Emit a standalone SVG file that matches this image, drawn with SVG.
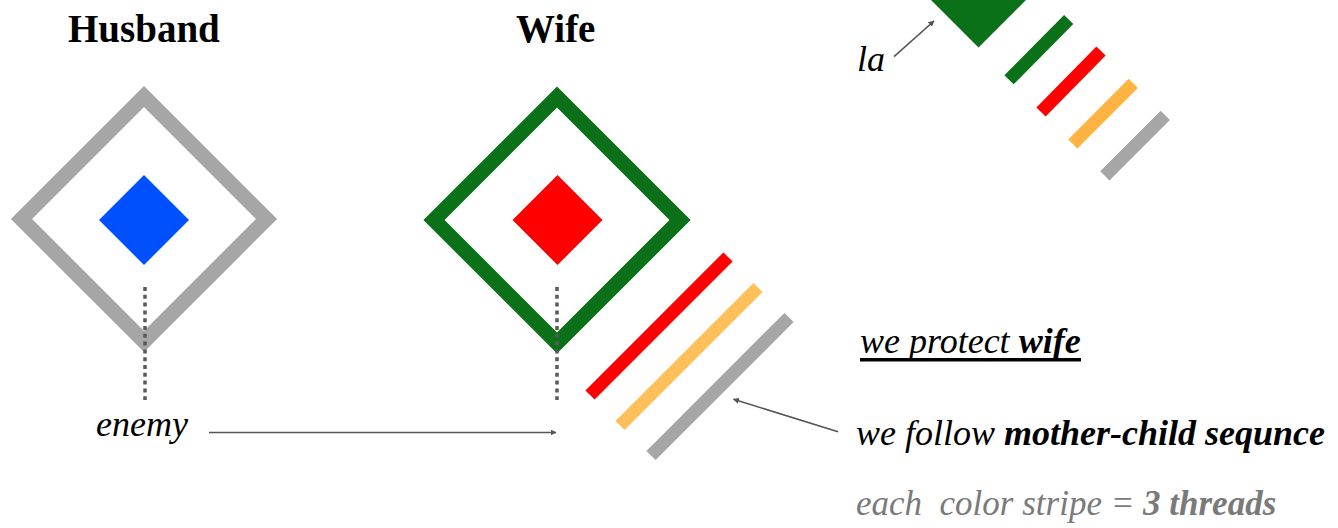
<svg xmlns="http://www.w3.org/2000/svg" width="1338" height="528" viewBox="0 0 1338 528">
  <style>
    .title { font-family: "Liberation Serif", "DejaVu Serif", serif; font-weight: bold; font-size: 39px; fill: #000; }
    .it { font-family: "Liberation Serif", "DejaVu Serif", serif; font-style: italic; fill: #000; }
    .b { font-weight: bold; }
    .frame { fill: none; stroke-width: 15; stroke-linejoin: miter; }
    .dots { stroke: #595959; stroke-width: 3.5; stroke-dasharray: 4 3.8; fill: none; }
    .stripe { stroke-width: 13; stroke-linecap: butt; fill: none; }
    .conn { stroke: #555555; stroke-width: 1.6; fill: none; marker-end: url(#arr); }
  </style>
  <defs>
    <marker id="arr" viewBox="0 0 10 10" refX="9" refY="5" markerWidth="6" markerHeight="6" markerUnits="userSpaceOnUse" orient="auto">
      <path d="M0,0 L10,5 L0,10 z" fill="#555555"/>
    </marker>
  </defs>
  <rect width="1338" height="528" fill="#ffffff"/>

  <g id="husband">
    <text class="title" x="68" y="42">Husband</text>
    <polygon class="frame" stroke="#A6A6A6" points="144,96.5 266.5,219 144,341.5 21.5,219"/>
    <polygon fill="#0050FF" points="144,175 189,220 144,265 99,220"/>
    <line class="dots" x1="145" y1="287" x2="145" y2="400"/>
  </g>

  <g id="wife">
    <text class="title" x="516" y="42">Wife</text>
    <polygon class="frame" stroke="#0A7119" points="557,97 680,220 557,343 434,220"/>
    <polygon fill="#FF0000" points="557.5,175 602.5,220 557.5,265 512.5,220"/>
    <line class="dots" x1="557" y1="287" x2="557" y2="400"/>
  </g>

  <g id="wife-stripes">
    <line class="stripe" stroke="#FF0000" x1="590" y1="395" x2="728" y2="257"/>
    <line class="stripe" stroke="#FFC05B" x1="620" y1="425.5" x2="758" y2="287.5"/>
    <line class="stripe" stroke="#A6A6A6" x1="651" y1="455.5" x2="789" y2="317.5"/>
  </g>

  <g id="la-legend">
    <polygon fill="#0A7119" points="978.5,-48.5 1026.5,-0.5 978.5,47.5 930.5,-0.5"/>
    <line class="stripe" stroke="#0A7119" x1="1009" y1="79.8" x2="1068.7" y2="19.5"/>
    <line class="stripe" stroke="#FF0000" x1="1041" y1="112" x2="1101" y2="51"/>
    <line class="stripe" stroke="#FFB340" x1="1072.8" y1="144" x2="1133.3" y2="83.3"/>
    <line class="stripe" stroke="#A6A6A6" x1="1104.8" y1="175.8" x2="1165.3" y2="115.3"/>
    <text class="it" x="857" y="71" font-size="36">la</text>
  </g>

  <g id="enemy">
    <text class="it" x="96" y="436" font-size="36">enemy</text>
  </g>

  <g id="notes">
    <text class="it" x="860" y="353" font-size="36">we protect <tspan class="b">wife</tspan></text>
    <rect x="860" y="358" width="221" height="3.5" fill="#000"/>
    <text class="it" x="856" y="445" font-size="36">we follow <tspan class="b">mother-child sequnce</tspan></text>
    <text class="it" x="856" y="515" font-size="35" style="fill:#7a7a7a" xml:space="preserve">each  color stripe = <tspan class="b">3 threads</tspan></text>
  </g>

  <g id="connectors">
    <line class="conn" x1="209" y1="432.5" x2="556" y2="432.5"/>
    <line class="conn" x1="894" y1="56.7" x2="934" y2="21"/>
    <line class="conn" x1="838" y1="431.7" x2="733.5" y2="399.3"/>
  </g>
</svg>
